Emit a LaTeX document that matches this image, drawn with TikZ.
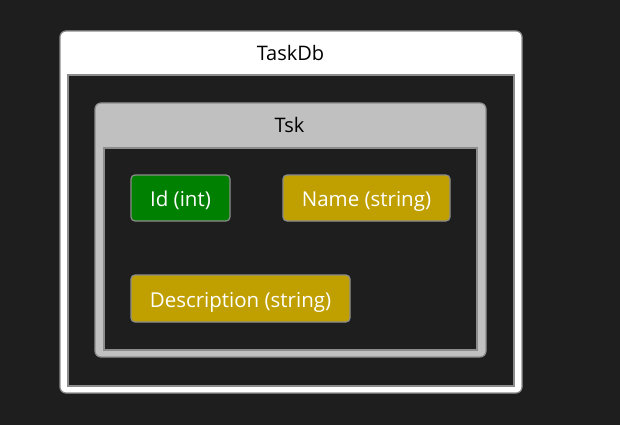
\documentclass[tikz,border=0pt]{standalone}
\usepackage{fontspec}
\setmainfont{Open Sans}
\definecolor{bg}{HTML}{1E1E1E}
\definecolor{gold}{HTML}{C0A000}
\definecolor{grn}{HTML}{008000}
\definecolor{tskgray}{HTML}{C0C0C0}
\definecolor{edge}{HTML}{8C8C8C}
\begin{document}
\begin{tikzpicture}[x=1pt,y=-1pt,
  container/.style={draw=edge,line width=1.2pt,rounded corners=6pt},
  body/.style={draw=edge,line width=1.2pt,fill=bg},
  field/.style={draw=edge,line width=1.2pt,rounded corners=4pt},
  fieldtext/.style={anchor=base,inner sep=0pt,text=white,font=\fontsize{20.5}{22}\selectfont},
  title/.style={anchor=base,inner sep=0pt,text=black,font=\fontsize{20}{22}\selectfont}]
\fill[bg] (0,0) rectangle (620,425);
\useasboundingbox (0,0) rectangle (620,425);
% TaskDb
\path[container,fill=white] (60,31) rectangle (522,393);
\node[title] (taskdb) at (290.5,61) {TaskDb};
\path[body] (68,75) rectangle (514,386);
% Tsk
\path[container,fill=tskgray] (95,103) rectangle (486,357);
\node[title] (tsk) at (289.5,132) {Tsk};
\path[body] (104,148) rectangle (477,350);
% fields
\path[field,fill=grn] (131,175) rectangle (230,221);
\node[fieldtext] (id) at (180.5,206.5) {Id (int)};
\path[field,fill=gold] (283,175) rectangle (450,221);
\node[fieldtext] (name) at (366.5,206.5) {Name (string)};
\path[field,fill=gold] (131,275) rectangle (350,322);
\node[fieldtext] (desc) at (240.5,307.5) {Description (string)};
\end{tikzpicture}
\end{document}
